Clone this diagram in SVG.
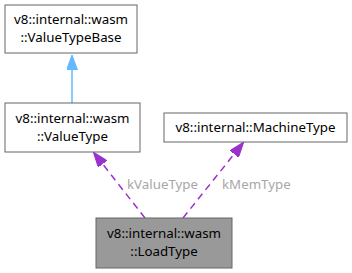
<svg xmlns="http://www.w3.org/2000/svg" width="352" height="273" viewBox="0 0 352 273">
<style>
  .box { fill: #ffffff; stroke: #666666; stroke-width: 1; }
  .cur { fill: #999999; stroke: #666666; stroke-width: 1; }
  .lbl { font-family: "Noto Sans", "DejaVu Sans", sans-serif; font-size: 13.3px; fill: #000000; text-anchor: middle; }
  .elbl { font-family: "Noto Sans", "DejaVu Sans", sans-serif; font-size: 13.3px; fill: #a8a8a8; text-anchor: start; }
  .inh { stroke: #63b8ff; stroke-width: 1.5; fill: none; }
  .use { stroke: #9a32cd; stroke-width: 1.5; fill: none; stroke-dasharray: 7,5; }
</style>
<defs>
  <marker id="ahBlue" markerWidth="15" markerHeight="11" refX="14" refY="5.5" orient="auto" markerUnits="userSpaceOnUse">
    <path d="M0,0 L15,5.5 L0,11 z" fill="#63b8ff" stroke="#63b8ff"/>
  </marker>
  <marker id="ahPurple" markerWidth="15" markerHeight="11" refX="14" refY="5.5" orient="auto" markerUnits="userSpaceOnUse">
    <path d="M0,0 L15,5.5 L0,11 z" fill="#9a32cd" stroke="#9a32cd"/>
  </marker>
</defs>

<g id="connectors">
  <path class="inh" d="M72,103 L72,56" marker-end="url(#ahBlue)"/>
  <path class="use" d="M145,218 L94,153" marker-end="url(#ahPurple)"/>
  <text class="elbl" x="127" y="189">kValueType</text>
  <path class="use" d="M183,218 L243,143" marker-end="url(#ahPurple)"/>
  <text class="elbl" x="222" y="189">kMemType</text>
</g>

<g id="node-valuetypebase">
  <rect class="box" x="5" y="5" width="132" height="48"/>
  <text class="lbl" x="71" y="24">v8::internal::wasm</text>
  <text class="lbl" x="71" y="42">::ValueTypeBase</text>
</g>

<g id="node-valuetype">
  <rect class="box" x="5" y="103" width="135" height="49"/>
  <text class="lbl" x="72.5" y="123">v8::internal::wasm</text>
  <text class="lbl" x="72.5" y="141">::ValueType</text>
</g>

<g id="node-machinetype">
  <rect class="box" x="164" y="113" width="183" height="29"/>
  <text class="lbl" x="255.5" y="132">v8::internal::MachineType</text>
</g>

<g id="node-loadtype">
  <rect class="cur" x="96" y="218" width="136" height="50"/>
  <text class="lbl" x="164" y="238">v8::internal::wasm</text>
  <text class="lbl" x="164" y="256">::LoadType</text>
</g>
</svg>
